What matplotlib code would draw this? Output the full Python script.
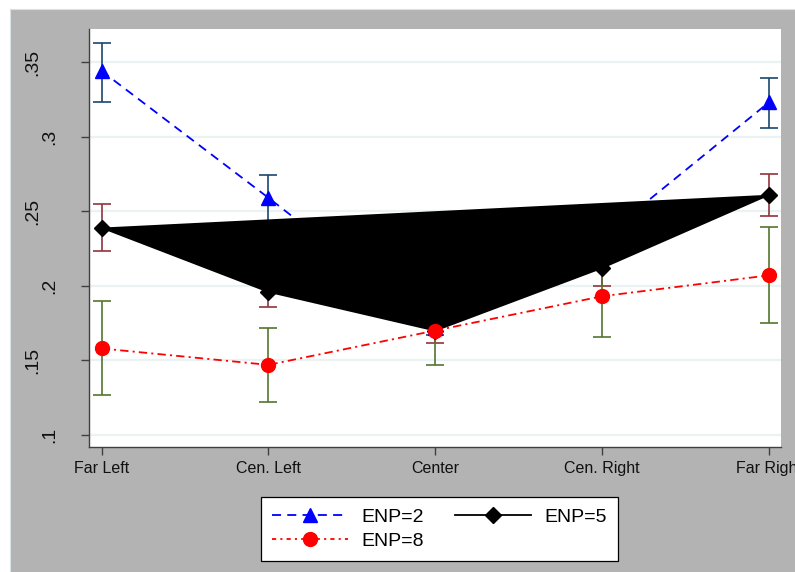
import matplotlib
matplotlib.use("Agg")
import matplotlib.pyplot as plt
from matplotlib.patches import Rectangle
from matplotlib.lines import Line2D

plt.rcParams['font.family'] = ['Liberation Sans', 'DejaVu Sans']
plt.rcParams['lines.scale_dashes'] = False

# Ideological position categories
categories = ["Far Left", "Cen. Left", "Center", "Cen. Right", "Far Right"]
xpos = [1, 2, 3, 4, 5]

# Predicted values with confidence bounds by effective number of parties
enp2 = [0.344, 0.259, 0.172, 0.232, 0.323]
enp2_lo = [0.323, 0.243, 0.167, 0.217, 0.306]
enp2_hi = [0.363, 0.274, 0.177, 0.247, 0.339]

enp5 = [0.239, 0.196, 0.170, 0.212, 0.261]
enp5_lo = [0.223, 0.186, 0.1615, 0.200, 0.247]
enp5_hi = [0.255, 0.207, 0.179, 0.224, 0.275]

enp8 = [0.158, 0.147, 0.170, 0.193, 0.207]
enp8_lo = [0.127, 0.122, 0.147, 0.1655, 0.175]
enp8_hi = [0.190, 0.1715, 0.194, 0.220, 0.2395]

yticks = [0.10, 0.15, 0.20, 0.25, 0.30, 0.35]
ytick_labels = [".1", ".15", ".2", ".25", ".3", ".35"]

W, H = 795, 572
fig = plt.figure(figsize=(W / 100, H / 100), dpi=100)
fig.patch.set_facecolor("white")
fig.patches.append(Rectangle((10 / W, -0.1), 1.2, 1.1 - 9 / H, transform=fig.transFigure,
                             facecolor="#b3b3b3", edgecolor="none", zorder=-10))
fig.lines.append(Line2D([10 / W, 10 / W], [0, 1 - 9 / H], transform=fig.transFigure,
                        color="#d8e2e4", lw=0.8, zorder=-9))
fig.lines.append(Line2D([10 / W, 1], [1 - 9 / H, 1 - 9 / H], transform=fig.transFigure,
                        color="#d8e2e4", lw=0.8, zorder=-9))

L, R, T, B = 89, 781, 29, 447
ax = fig.add_axes([L / W, 1 - B / H, (R - L) / W, (B - T) / H])
ax.set_facecolor("white")
ax.set_xlim(0.925, 5.072)
ax.set_ylim(0.09196, 0.3721)

def yerr(v, lo, hi):
    return [[a - b for a, b in zip(v, lo)], [c - a for a, c in zip(v, hi)]]

cap = 6.5
elw = 1.2
ax.errorbar(xpos, enp2, yerr=yerr(enp2, enp2_lo, enp2_hi), fmt="none",
            ecolor="#1a476f", elinewidth=elw, capsize=cap, capthick=elw, zorder=2)
ax.errorbar(xpos, enp5, yerr=yerr(enp5, enp5_lo, enp5_hi), fmt="none",
            ecolor="#90353b", elinewidth=elw, capsize=cap, capthick=elw, zorder=2)
ax.errorbar(xpos, enp8, yerr=yerr(enp8, enp8_lo, enp8_hi), fmt="none",
            ecolor="#55752f", elinewidth=elw, capsize=cap, capthick=elw, zorder=2)

ax.plot(xpos, enp2, color="#0000ff", lw=1.3, dashes=(6.5, 4.5),
        marker="^", ms=10, mfc="#0000ff", mec="#0000ff", zorder=3)

# ENP=5 drawn as a filled shape with its line and markers
ax.fill(xpos, enp5, color="black", lw=0, zorder=4)
ax.plot(xpos, enp5, color="black", lw=1.3, marker="D", ms=8.5, zorder=5)

ax.plot(xpos, enp8, color="#ff0000", lw=1.3, dashes=(6, 3, 1.5, 3),
        marker="o", ms=10, mfc="#ff0000", mec="#ff0000", zorder=6)

# axes styling
for s in ["top", "right"]:
    ax.spines[s].set_visible(False)
for s in ["left", "bottom"]:
    ax.spines[s].set_color("#404040")
    ax.spines[s].set_linewidth(1.0)

ax.set_yticks(yticks)
ax.yaxis.grid(True, color="#eaf2f3", lw=1.6)
ax.set_axisbelow(True)
ax.tick_params(axis="y", length=5.8, width=1.0, color="#404040", labelleft=False)
for v, lab in zip(yticks, ytick_labels):
    cx = 85 - 17.5 * len(lab)
    ax.text((cx - L) / (R - L), v, lab, transform=ax.get_yaxis_transform(),
            rotation=90, ha="center", va="center", fontsize=14, color="#111111",
            clip_on=False)

ax.set_xticks(xpos)
ax.set_xticklabels(categories, fontsize=11.5, color="#111111")
ax.tick_params(axis="x", length=5.8, width=1.0, color="#404040", pad=4)

handles = [
    Line2D([], [], color="#0000ff", lw=1.3, dashes=(6.5, 4.5), marker="^", ms=10),
    Line2D([], [], color="#ff0000", lw=1.3, dashes=(3, 3, 1.5, 3), marker="o", ms=10),
    Line2D([], [], color="black", lw=1.3, marker="D", ms=8.5),
]
labels = ["ENP=2", "ENP=8", "ENP=5"]
leg = fig.legend(handles, labels, loc="center", bbox_to_anchor=(439.5 / W, 1 - 529 / H),
                 ncol=2, fontsize=14, frameon=True, fancybox=False, edgecolor="black",
                 facecolor="white", framealpha=1, handlelength=3.9, handletextpad=0.7,
                 columnspacing=1.6, labelspacing=0.36, borderpad=0.55, numpoints=1)
leg.get_frame().set_linewidth(0.9)

fig.savefig("out.png", dpi=100)
